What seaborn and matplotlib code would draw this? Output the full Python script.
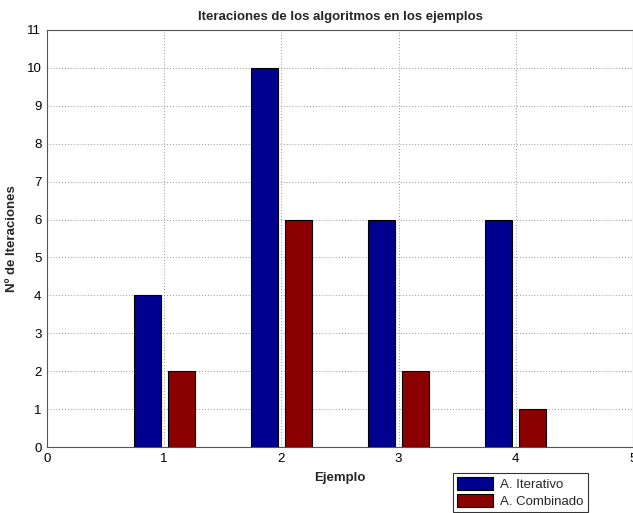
import matplotlib
matplotlib.use("Agg")
import matplotlib.pyplot as plt
import seaborn as sns
import pandas as pd

ejemplos = [1, 2, 3, 4]
iterativo = [4, 10, 6, 6]
combinado = [2, 6, 2, 1]
series = ["A. Iterativo", "A. Combinado"]
colores = ["#00008F", "#8B0000"]

df = pd.DataFrame({
    "Ejemplo": ejemplos * 2,
    "Iteraciones": iterativo + combinado,
    "Algoritmo": [series[0]] * len(ejemplos) + [series[1]] * len(ejemplos),
})

sns.set_style("white")
plt.rcParams["font.family"] = ["Liberation Sans", "DejaVu Sans"]

fig = plt.figure(figsize=(6.33, 5.13), dpi=100)
ax = fig.add_axes([47 / 633, 66 / 513, 586 / 633, 417 / 513])

sns.barplot(data=df, x="Ejemplo", y="Iteraciones", hue="Algoritmo",
            hue_order=series, palette=colores, saturation=1, native_scale=True,
            width=0.58, gap=0.2, edgecolor="black", linewidth=0.8,
            errorbar=None, ax=ax, zorder=3)

ax.set_xlim(0, 5)
ax.set_ylim(0, 11)
ax.set_xticks(range(0, 6))
ax.set_yticks(range(0, 12))
ax.tick_params(direction="in", length=4, labelsize=9.5, width=0.6,
               colors="black", pad=4)
ax.grid(True, linestyle=(0, (1, 2)), color="#999999", linewidth=0.7, zorder=0)
ax.set_axisbelow(True)
for s in ax.spines.values():
    s.set_color("#555555")
    s.set_linewidth(0.8)

ax.set_title("Iteraciones de los algoritmos en los ejemplos",
             fontsize=9.5, fontweight="bold", pad=7)
ax.set_xlabel("Ejemplo", fontsize=9.5, fontweight="bold", labelpad=5)
ax.set_ylabel("Nº de Iteraciones", fontsize=9.5, fontweight="bold", labelpad=6)

ax.get_legend().remove()
handles, labels = ax.get_legend_handles_labels()
leg = fig.legend(handles[:2], labels[:2], loc="upper left",
                 bbox_to_anchor=(453 / 633, 1 - 473 / 513),
                 bbox_transform=fig.transFigure,
                 fontsize=9.5, frameon=True, fancybox=False,
                 edgecolor="black", borderpad=0.3, labelspacing=0.25,
                 handlelength=2.7, handleheight=1.1, handletextpad=0.6,
                 borderaxespad=0)
leg.get_frame().set_linewidth(0.8)

fig.savefig("out.png", dpi=100, facecolor="white")
